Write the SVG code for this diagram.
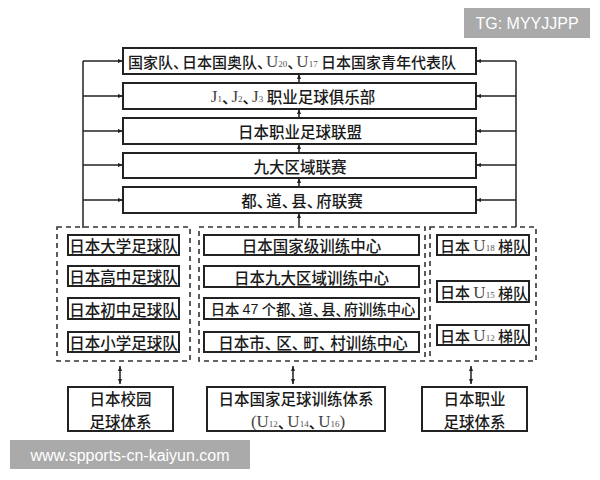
<svg xmlns="http://www.w3.org/2000/svg" width="600" height="480" viewBox="0 0 600 480">
<defs>
<marker id="ah" viewBox="0 0 10 10" refX="10" refY="5" markerWidth="5" markerHeight="5" orient="auto-start-reverse" markerUnits="userSpaceOnUse">
<path d="M0,1 L10,5 L0,9 z" fill="#222"/>
</marker>
<style>
.box{fill:#fff;stroke:#222;stroke-width:2}
.dash{fill:none;stroke:#333;stroke-width:1.6;stroke-dasharray:5 4}
.t{font-family:"Noto Sans CJK SC","Noto Sans",sans-serif;font-size:15.5px;font-weight:500;fill:#1a1a1a;text-anchor:middle;dominant-baseline:central}
.s{font-family:"Liberation Serif",serif;font-weight:normal;font-size:17px;fill:#444}
.sub{font-family:"Liberation Serif",serif;font-weight:normal;font-size:9px;fill:#555}
.d{letter-spacing:-6px}
.ln{fill:none;stroke:#222;stroke-width:1.5}
.wm{font-family:"Liberation Sans",Arial,sans-serif;fill:#fff;font-size:16px}
</style>
</defs>
<rect width="600" height="480" fill="#fff"/>

<g id="connectors">
<path class="ln" d="M83,228 V61"/>
<path class="ln" d="M83,61 H123" marker-end="url(#ah)"/>
<path class="ln" d="M83,96 H123" marker-end="url(#ah)"/>
<path class="ln" d="M83,131 H123" marker-end="url(#ah)"/>
<path class="ln" d="M83,165 H123" marker-end="url(#ah)"/>
<path class="ln" d="M83,200 H123" marker-end="url(#ah)"/>
<path class="ln" d="M516,227 V61"/>
<path class="ln" d="M516,61 H476" marker-end="url(#ah)"/>
<path class="ln" d="M516,96 H476" marker-end="url(#ah)"/>
<path class="ln" d="M516,131 H476" marker-end="url(#ah)"/>
<path class="ln" d="M516,165 H476" marker-end="url(#ah)"/>
<path class="ln" d="M516,200 H476" marker-end="url(#ah)"/>
<path class="ln" d="M299,83 V74" marker-end="url(#ah)"/>
<path class="ln" d="M299,118 V109" marker-end="url(#ah)"/>
<path class="ln" d="M299,153 V144" marker-end="url(#ah)"/>
<path class="ln" d="M299,187 V178" marker-end="url(#ah)"/>
<path class="ln" d="M299,227 V213" marker-end="url(#ah)"/>
<path class="ln" d="M120,366 V384" marker-start="url(#ah)" marker-end="url(#ah)"/>
<path class="ln" d="M293,366 V384" marker-start="url(#ah)" marker-end="url(#ah)"/>
<path class="ln" d="M471,366 V384" marker-start="url(#ah)" marker-end="url(#ah)"/>
</g>

<g id="n-national">
<rect class="box" x="123" y="48" width="353" height="26"/>
<text class="t" x="292" y="61" style="font-size:15px">国家队<tspan class="d">、</tspan>日本国奥队<tspan class="d">、</tspan><tspan class="s">U</tspan><tspan class="sub" dy="3">20</tspan><tspan class="d" dy="-3">、</tspan><tspan class="s">U</tspan><tspan class="sub" dy="3">17</tspan><tspan dy="-3"> 日本国家青年代表队</tspan></text>
</g>
<g id="n-clubs">
<rect class="box" x="123" y="83" width="353" height="26"/>
<text class="t" x="293" y="96"><tspan class="s">J</tspan><tspan class="sub" dy="3">1</tspan><tspan class="d" dy="-3">、</tspan><tspan class="s">J</tspan><tspan class="sub" dy="3">2</tspan><tspan class="d" dy="-3">、</tspan><tspan class="s">J</tspan><tspan class="sub" dy="3">3</tspan><tspan dy="-3"> 职业足球俱乐部</tspan></text>
</g>
<g id="n-jleague">
<rect class="box" x="123" y="118" width="353" height="26"/>
<text class="t" x="300" y="131">日本职业足球联盟</text>
</g>
<g id="n-nine">
<rect class="box" x="123" y="153" width="353" height="25"/>
<text class="t" x="300" y="165.5">九大区域联赛</text>
</g>
<g id="n-pref">
<rect class="box" x="123" y="187" width="353" height="26"/>
<text class="t" x="302" y="200">都<tspan class="d">、</tspan>道<tspan class="d">、</tspan>县<tspan class="d">、</tspan>府联赛</text>
</g>

<g id="g-school">
<rect class="dash" x="57" y="227" width="133" height="134"/>
<rect class="box" x="68" y="235" width="111" height="20"/>
<text class="t" x="123.5" y="245">日本大学足球队</text>
<rect class="box" x="68" y="266" width="111" height="20"/>
<text class="t" x="123.5" y="276">日本高中足球队</text>
<rect class="box" x="68" y="298" width="111" height="21"/>
<text class="t" x="123.5" y="308.5">日本初中足球队</text>
<rect class="box" x="68" y="332" width="111" height="20"/>
<text class="t" x="123.5" y="342">日本小学足球队</text>
</g>

<g id="g-center">
<rect class="dash" x="199" y="227" width="226" height="134"/>
<rect class="box" x="204" y="235" width="215" height="20"/>
<text class="t" x="311.5" y="245">日本国家级训练中心</text>
<rect class="box" x="204" y="266" width="215" height="21"/>
<text class="t" x="311.5" y="276.5">日本九大区域训练中心</text>
<rect class="box" x="204" y="298" width="215" height="21"/>
<text class="t" x="313" y="308.5" style="font-size:14.3px">日本 <tspan font-family="Liberation Sans,sans-serif" font-weight="normal">47</tspan> 个都<tspan class="d">、</tspan>道<tspan class="d">、</tspan>县<tspan class="d">、</tspan>府训练中心</text>
<rect class="box" x="204" y="332" width="215" height="20"/>
<text class="t" x="313" y="342">日本市<tspan style="letter-spacing:-4px">、</tspan>区<tspan style="letter-spacing:-4px">、</tspan>町<tspan style="letter-spacing:-4px">、</tspan>村训练中心</text>
</g>

<g id="g-youth">
<rect class="dash" x="430" y="227" width="106" height="134"/>
<rect class="box" x="437" y="235" width="92" height="20"/>
<text class="t" x="484" y="245" style="font-size:15px">日本 <tspan class="s">U</tspan><tspan class="sub" dy="3">18</tspan><tspan dy="-3"> 梯队</tspan></text>
<rect class="box" x="437" y="281" width="92" height="21"/>
<text class="t" x="484" y="291.5" style="font-size:15px">日本 <tspan class="s">U</tspan><tspan class="sub" dy="3">15</tspan><tspan dy="-3"> 梯队</tspan></text>
<rect class="box" x="437" y="325" width="92" height="20"/>
<text class="t" x="484" y="335" style="font-size:15px">日本 <tspan class="s">U</tspan><tspan class="sub" dy="3">12</tspan><tspan dy="-3"> 梯队</tspan></text>
</g>

<g id="n-school-system">
<rect class="box" x="68" y="387" width="105" height="44"/>
<text class="t" x="120.5" y="398">日本校园</text>
<text class="t" x="120.5" y="420.5">足球体系</text>
</g>
<g id="n-training-system">
<rect class="box" x="207" y="387" width="178" height="44"/>
<text class="t" x="296" y="398">日本国家足球训练体系</text>
<text class="t" x="298" y="420.5"><tspan class="s">(U</tspan><tspan class="sub" dy="3">12</tspan><tspan class="d" dy="-3">、</tspan><tspan class="s">U</tspan><tspan class="sub" dy="3">14</tspan><tspan class="d" dy="-3">、</tspan><tspan class="s">U</tspan><tspan class="sub" dy="3">16</tspan><tspan class="s" dy="-3">)</tspan></text>
</g>
<g id="n-pro-system">
<rect class="box" x="422" y="387" width="105" height="44"/>
<text class="t" x="474.5" y="398">日本职业</text>
<text class="t" x="474.5" y="420.5">足球体系</text>
</g>

<rect x="10" y="440" width="240" height="29" fill="#aaa"/>
<text class="wm" x="130" y="455" text-anchor="middle" dominant-baseline="central">www.spports-cn-kaiyun.com</text>
<rect x="464" y="8" width="126" height="30" fill="#aaa"/>
<text class="wm" x="527" y="23" text-anchor="middle" dominant-baseline="central">TG: MYYJJPP</text>
</svg>
